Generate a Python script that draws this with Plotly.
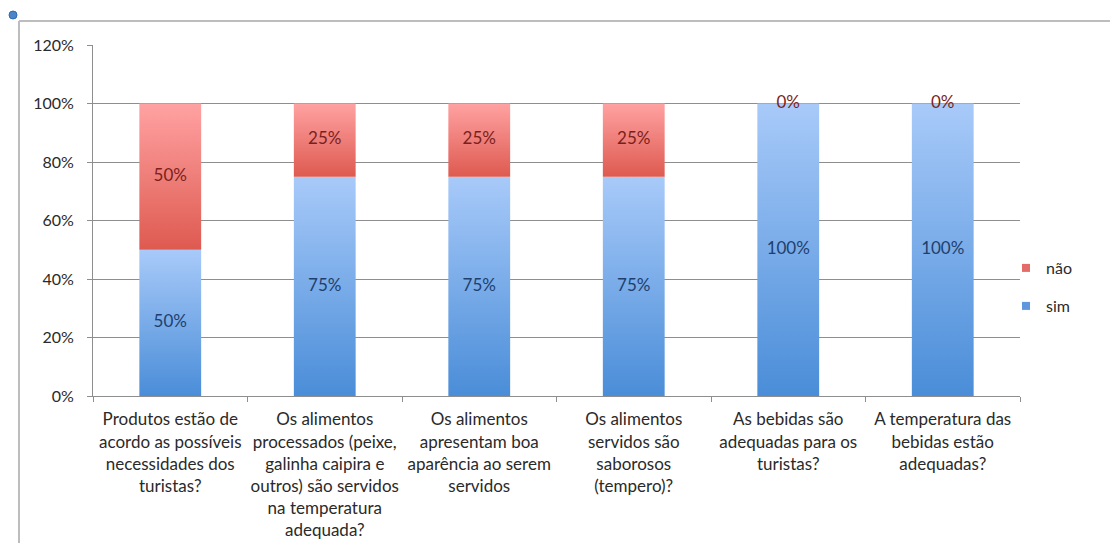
import plotly.graph_objects as go

# Survey questions (x categories) and the share of answers per option
categories = [
    "Produtos estão de<br>acordo as possíveis<br>necessidades dos<br>turistas?",
    "Os alimentos<br>processados (peixe,<br>galinha caipira e<br>outros) são servidos<br>na temperatura<br>adequada?",
    "Os alimentos<br>apresentam boa<br>aparência ao serem<br>servidos",
    "Os alimentos<br>servidos são<br>saborosos<br>(tempero)?",
    "As bebidas são<br>adequadas para os<br>turistas?",
    "A temperatura das<br>bebidas estão<br>adequadas?",
]
sim = [50, 75, 75, 75, 100, 100]
nao = [50, 25, 25, 25, 0, 0]
y_ticks = [0, 20, 40, 60, 80, 100, 120]

FONT = "Lato, 'Open Sans', sans-serif"
BAR_W = 0.4

series = [
    # name, values, bottom colour, top colour, label colour, legend colour
    ("sim", sim, "#4A8DD8", "#A8CAF9", "#1E3F6E", "#5E97DD"),
    ("não", nao, "#DE5A50", "#FFA2A2", "#7A1F1C", "#E36C69"),
]

fig = go.Figure()

base = [0] * len(categories)
for name, vals, c_bot, c_top, c_lab, _ in series:
    for i, v in enumerate(vals):
        b, t = base[i] / 100, (base[i] + v) / 100
        if v > 0:
            fig.add_trace(go.Scatter(
                x=[i - BAR_W / 2, i + BAR_W / 2, i + BAR_W / 2, i - BAR_W / 2, i - BAR_W / 2],
                y=[b, b, t, t, b],
                mode="lines", line=dict(width=0),
                fill="toself",
                fillgradient=dict(type="vertical",
                                  colorscale=[[0, c_bot], [1, c_top]]),
                hoverinfo="skip", showlegend=False,
            ))
    # value labels centred on each segment
    fig.add_trace(go.Scatter(
        x=list(range(len(categories))),
        y=[(base[i] + v / 2) / 100 for i, v in enumerate(vals)],
        mode="text",
        text=[f"{v}%" for v in vals],
        textfont=dict(family=FONT, size=17, color=c_lab),
        hoverinfo="skip", showlegend=False,
    ))
    base = [base[i] + v for i, v in enumerate(vals)]

# legend entries (não above sim)
for name, _, _, _, _, c_leg in series[::-1]:
    fig.add_trace(go.Scatter(
        x=[None], y=[None], mode="markers", name=name,
        marker=dict(symbol="square", size=8, color=c_leg),
        legend="legend" if name == "não" else "legend2",
    ))

# plot area geometry in pixels
W, H = 1110, 543
L, R, T, B = 93, 1020, 45, 396
pw, ph = R - L, B - T


def px_x(px):
    return (px - L) / pw


def px_y(py):
    return (B - py) / ph


grid = "#8E8E8E"
text_col = "#2A2A2A"
legend_style = dict(font=dict(family=FONT, size=16, color=text_col),
                    bgcolor="rgba(0,0,0,0)", xanchor="left", yanchor="middle",
                    itemwidth=30, tracegroupgap=0)

fig.update_layout(
    width=W, height=H,
    margin=dict(l=L, r=W - R, t=T, b=H - B, autoexpand=False),
    paper_bgcolor="white", plot_bgcolor="white",
    font=dict(family=FONT, color=text_col),
    xaxis=dict(
        range=[-0.5, len(categories) - 0.5],
        tickmode="array", tickvals=list(range(len(categories))), ticktext=categories,
        ticks="outside", ticklen=8, tickcolor="rgba(0,0,0,0)",
        tickfont=dict(family=FONT, size=17, color=text_col),
        showgrid=False, zeroline=False,
        showline=True, linecolor=grid, linewidth=1, mirror=False,
        minor=dict(tickmode="array",
                   tickvals=[k - 0.5 for k in range(len(categories) + 1)],
                   ticks="outside", ticklen=5, tickcolor=grid, showgrid=False),
        fixedrange=True,
    ),
    yaxis=dict(
        range=[0, 1.2],
        tickmode="array", tickvals=[v / 100 for v in y_ticks],
        ticktext=[f"{v}%" for v in y_ticks],
        ticks="outside", ticklen=5, tickcolor=grid,
        ticklabelstandoff=10,
        tickfont=dict(family=FONT, size=16, color=text_col),
        showgrid=True, gridcolor=grid, gridwidth=1,
        zeroline=False, showline=True, linecolor=grid, linewidth=1,
        fixedrange=True,
    ),
    legend=dict(x=px_x(1006), y=px_y(268), **legend_style),
    legend2=dict(x=px_x(1006), y=px_y(306), **legend_style),
    shapes=[
        # outer chart frame (top and left edges)
        dict(type="line", xref="paper", yref="paper",
             x0=px_x(19), x1=px_x(W + 5), y0=px_y(21), y1=px_y(21),
             line=dict(color="#BDBDBD", width=2)),
        dict(type="line", xref="paper", yref="paper",
             x0=px_x(19), x1=px_x(19), y0=px_y(21), y1=px_y(H + 5),
             line=dict(color="#BDBDBD", width=2)),
        # selection handle in the corner
        dict(type="circle", xref="paper", yref="paper",
             x0=px_x(9), x1=px_x(17), y0=px_y(11), y1=px_y(19),
             fillcolor="#4A86C8", line=dict(color="#2F6BB0", width=1)),
    ],
)

fig.write_html("out.html")
